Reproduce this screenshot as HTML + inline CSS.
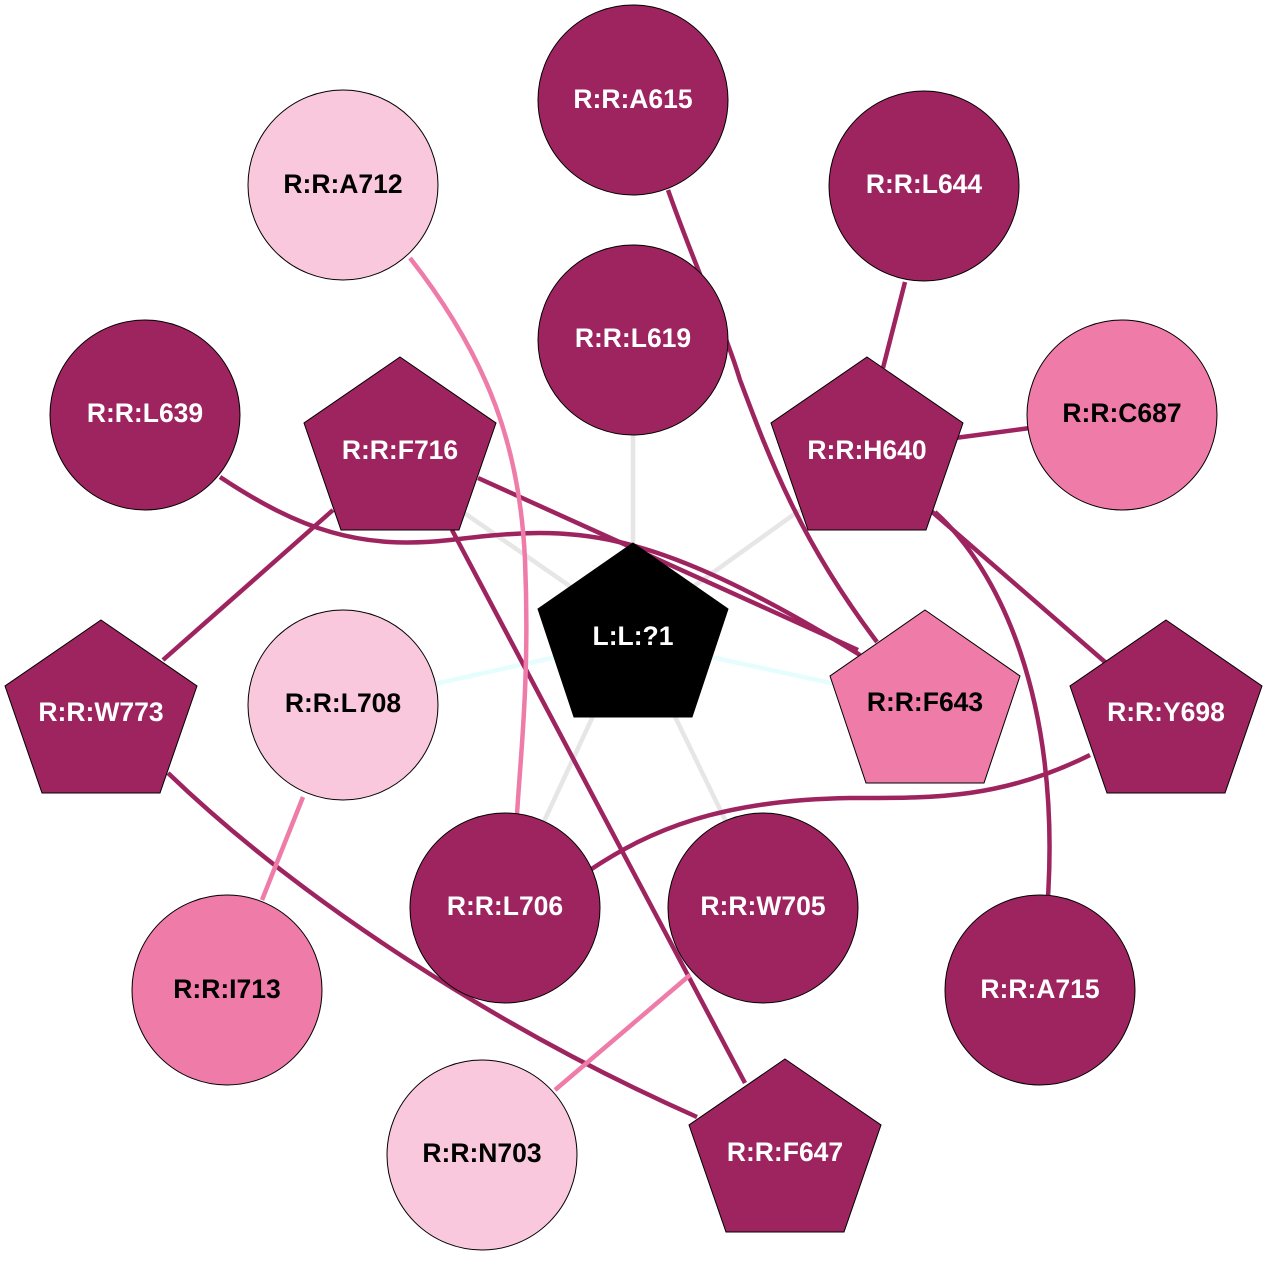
<!DOCTYPE html>
<html><head><meta charset="utf-8"><style>
html,body{margin:0;padding:0;background:#fff;}
svg text{font-family:"Liberation Sans",Arial,sans-serif;font-weight:bold;font-size:26.5px;text-anchor:middle;dominant-baseline:central;}
</style></head><body>
<svg width="1267" height="1256" viewBox="0 0 1267 1256" xmlns="http://www.w3.org/2000/svg">
<g fill="none" stroke-width="4.5">
<g stroke="#e6e6e6">
<line x1="633" y1="630" x2="633" y2="430"/>
<line x1="633" y1="630" x2="460" y2="510"/>
<line x1="633" y1="630" x2="800" y2="510"/>
<line x1="633" y1="630" x2="540" y2="830"/>
<line x1="633" y1="630" x2="730" y2="830"/>
</g>
<g stroke="#e6fdfd">
<line x1="633" y1="640" x2="430" y2="685"/>
<line x1="633" y1="640" x2="840" y2="685"/>
</g>
<g stroke="#9e2460">
<path d="M668,190 C700,280 725,330 740,380 C770,460 800,540 877,642"/>
<line x1="905" y1="282" x2="883" y2="368"/>
<line x1="955" y1="438" x2="1030" y2="428"/>
<line x1="930" y1="510" x2="1105" y2="662"/>
<path d="M935,512 C1000,570 1060,700 1048,897"/>
<path d="M220,477 C300,530 360,550 450,540 C570,526 640,520 860,655"/>
<line x1="478" y1="478" x2="858" y2="650"/>
<line x1="333" y1="510" x2="163" y2="660"/>
<line x1="452" y1="530" x2="745" y2="1083"/>
<path d="M168,773 C300,900 500,1030 697,1117"/>
<path d="M1090,755 C1000,800 930,798 850,798 C720,800 650,830 590,870"/>
</g>
<g stroke="#ee7ba8">
<path d="M410,258 C490,360 520,450 525,560 C530,680 520,760 517,815"/>
<line x1="303" y1="797" x2="262" y2="900"/>
<line x1="690" y1="975" x2="555" y2="1090"/>
</g>
</g>
<g stroke="#000" stroke-width="1">
<circle cx="633" cy="100" r="95" fill="#9e2460"/>
<circle cx="343" cy="185" r="95" fill="#f9c8dc"/>
<circle cx="924" cy="186" r="95" fill="#9e2460"/>
<circle cx="633" cy="340" r="95" fill="#9e2460"/>
<circle cx="1122" cy="415" r="95" fill="#ee7ba8"/>
<circle cx="145" cy="415" r="95" fill="#9e2460"/>
<circle cx="343" cy="705" r="95" fill="#f9c8dc"/>
<circle cx="505" cy="908" r="95" fill="#9e2460"/>
<circle cx="763" cy="908" r="95" fill="#9e2460"/>
<circle cx="227" cy="990" r="95" fill="#ee7ba8"/>
<circle cx="1040" cy="990" r="95" fill="#9e2460"/>
<circle cx="482" cy="1155" r="95" fill="#f9c8dc"/>
<polygon points="400,357 496,423 459,530 341,530 304,423" fill="#9e2460"/>
<polygon points="867,357 963,423 926,530 808,530 771,423" fill="#9e2460"/>
<polygon points="633,543 728,609 692,717 574,717 538,609" fill="#000"/>
<polygon points="925,610 1020,676 984,783 866,783 830,676" fill="#ee7ba8"/>
<polygon points="1166,620 1262,686 1225,793 1107,793 1070,686" fill="#9e2460"/>
<polygon points="101,620 197,686 160,793 42,793 5,686" fill="#9e2460"/>
<polygon points="785,1059 881,1125 844,1232 726,1232 689,1125" fill="#9e2460"/>
</g>
<g fill="#fff">
<text x="633" y="99">R:R:A615</text>
<text x="924" y="184">R:R:L644</text>
<text x="633" y="338">R:R:L619</text>
<text x="145" y="413">R:R:L639</text>
<text x="400" y="450">R:R:F716</text>
<text x="867" y="450">R:R:H640</text>
<text x="633" y="636">L:L:?1</text>
<text x="1166" y="712">R:R:Y698</text>
<text x="101" y="712">R:R:W773</text>
<text x="505" y="906">R:R:L706</text>
<text x="763" y="906">R:R:W705</text>
<text x="1040" y="989">R:R:A715</text>
<text x="785" y="1152">R:R:F647</text>
</g>
<g fill="#000">
<text x="343" y="184">R:R:A712</text>
<text x="1122" y="413">R:R:C687</text>
<text x="925" y="702">R:R:F643</text>
<text x="343" y="703">R:R:L708</text>
<text x="227" y="989">R:R:I713</text>
<text x="482" y="1153">R:R:N703</text>
</g>
</svg>
</body></html>
